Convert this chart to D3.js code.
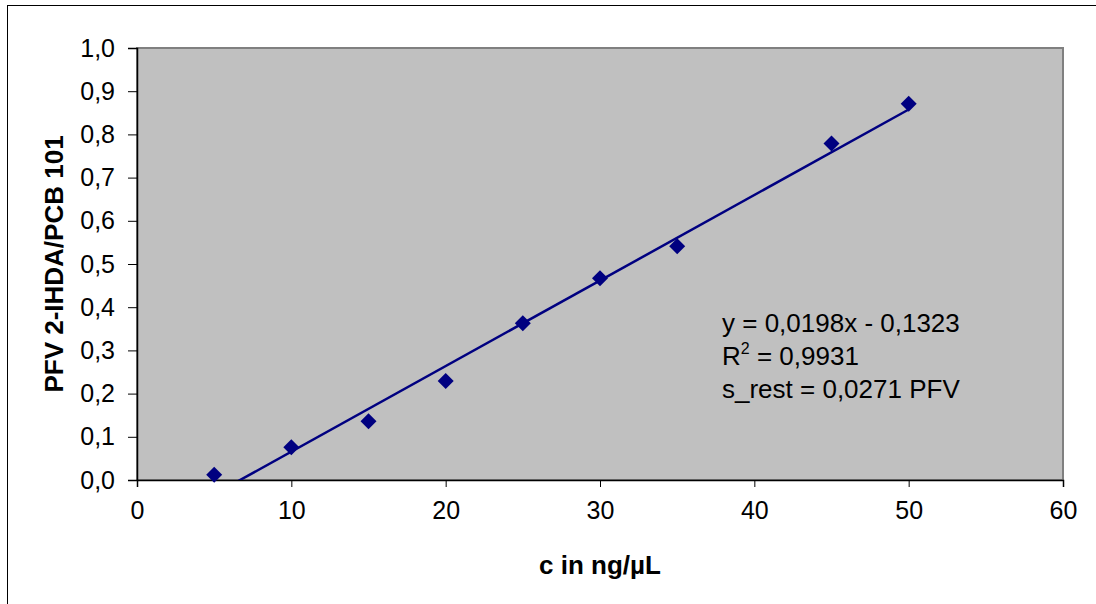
<!DOCTYPE html>
<html>
<head>
<meta charset="utf-8">
<script src="https://cdn.jsdelivr.net/npm/d3@7"></script>
<style>
  body { margin: 0; background: #fff; }
  svg { display: block; font-family: Arial, "Liberation Sans", sans-serif; }
</style>
</head>
<body>
<div id="chart"></div>
<script>
// calibration data
const conc = [5, 10, 15, 20, 25, 30, 35, 45, 50];
const ratio = [0.012, 0.076, 0.136, 0.229, 0.363, 0.467, 0.541, 0.779, 0.871];

const slope = 0.0198;
const intercept = -0.1323;

const xTicks = [0, 10, 20, 30, 40, 50, 60];
const yTicks = [0, 0.1, 0.2, 0.3, 0.4, 0.5, 0.6, 0.7, 0.8, 0.9, 1.0];

const fitText = ["y = 0,0198x - 0,1323", "R", " = 0,9931", "s_rest = 0,0271 PFV"];

const width = 1096, height = 604;
const plot = {left: 137, top: 48, right: 1063, bottom: 480};
const navy = '#000080';

const svg = d3.select('#chart').append('svg')
  .attr('width', width)
  .attr('height', height);

// outer chart border
svg.append('rect')
  .attr('x', 7.5).attr('y', 5.5)
  .attr('width', width + 10).attr('height', height + 10)
  .attr('fill', 'none')
  .attr('stroke', '#000')
  .attr('stroke-width', 1);

const x = d3.scaleLinear()
  .domain([0, 60])
  .range([plot.left, plot.right]);

const y = d3.scaleLinear()
  .domain([0, 1])
  .range([plot.bottom, plot.top]);

// plot area
svg.append('rect')
  .attr('x', plot.left).attr('y', plot.top)
  .attr('width', plot.right - plot.left)
  .attr('height', plot.bottom - plot.top)
  .attr('fill', '#c0c0c0')
  .attr('stroke', '#808080')
  .attr('stroke-width', 2);

svg.append('clipPath').attr('id', 'clip')
  .append('rect')
  .attr('x', plot.left).attr('y', plot.top)
  .attr('width', plot.right - plot.left)
  .attr('height', plot.bottom - plot.top);

// axes
const fmt = d => d3.format('.1f')(d).replace('.', ',');

const yAxis = svg.append('g')
  .attr('transform', `translate(${plot.left},0)`)
  .call(d3.axisLeft(y).tickValues(yTicks).tickFormat(fmt).tickSize(9).tickPadding(13));

const xAxis = svg.append('g')
  .attr('transform', `translate(0,${plot.bottom})`)
  .call(d3.axisBottom(x).tickValues(xTicks).tickFormat(d3.format('d')).tickSize(7).tickPadding(14));

[xAxis, yAxis].forEach(ax => {
  ax.select('.domain').attr('stroke', '#000').attr('stroke-width', 1.5);
  ax.selectAll('.tick line').attr('stroke', '#000').attr('stroke-width', 1);
  ax.selectAll('.tick text')
    .attr('fill', '#000')
    .attr('font-size', 25)
    .attr('font-family', 'Arial, "Liberation Sans", sans-serif');
});

// trend line
svg.append('line')
  .attr('clip-path', 'url(#clip)')
  .attr('x1', x(conc[0]))
  .attr('y1', y(slope * conc[0] + intercept))
  .attr('x2', x(conc[conc.length - 1]))
  .attr('y2', y(slope * conc[conc.length - 1] + intercept))
  .attr('stroke', navy)
  .attr('stroke-width', 2.5);

// markers
svg.append('g')
  .selectAll('path')
  .data(conc)
  .enter().append('path')
    .attr('d', 'M0,-8L8,0L0,8L-8,0Z')
    .attr('transform', (d, i) => `translate(${x(d)},${y(ratio[i])})`)
    .attr('fill', navy);

// regression text
const note = svg.append('g')
  .attr('font-size', 26)
  .attr('fill', '#000');

note.append('text').attr('x', 722).attr('y', 332).text(fitText[0]);
const r2 = note.append('text').attr('x', 722).attr('y', 365);
r2.append('tspan').text(fitText[1]);
r2.append('tspan').attr('dy', -11).attr('font-size', 16).text('2');
r2.append('tspan').attr('dy', 11).text(fitText[2]);
note.append('text').attr('x', 722).attr('y', 398).text(fitText[3]);

// axis titles
svg.append('text')
  .attr('x', (plot.left + plot.right) / 2)
  .attr('y', 574)
  .attr('text-anchor', 'middle')
  .attr('font-size', 26)
  .attr('font-weight', 'bold')
  .text('c in ng/µL');

svg.append('text')
  .attr('transform', `translate(63,${(plot.top + plot.bottom) / 2}) rotate(-90)`)
  .attr('text-anchor', 'middle')
  .attr('font-size', 26)
  .attr('font-weight', 'bold')
  .text('PFV 2-IHDA/PCB 101');
</script>
</body>
</html>
